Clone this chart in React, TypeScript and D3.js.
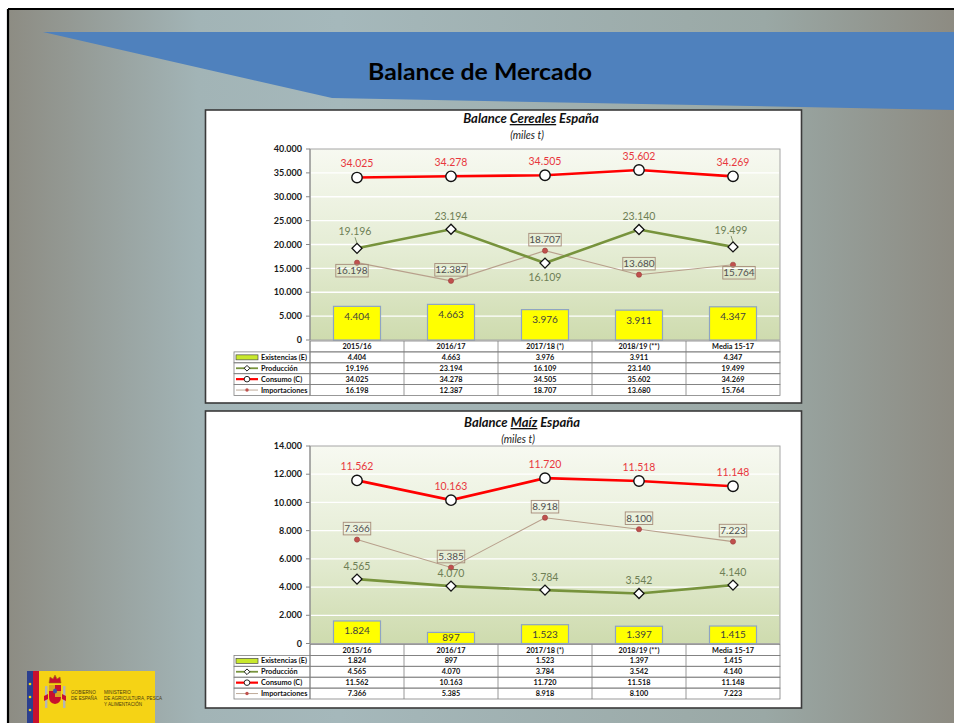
import * as d3 from 'd3'

const W = 954
const H = 723

const categories = ['2015/16', '2016/17', '2017/18 (*)', '2018/19 (**)', 'Media 15-17']
const seriesNames = ['Existencias (E)', 'Producción', 'Consumo (C)', 'Importaciones']

// Cereales (miles t)
const cerealesExistencias = [4404, 4663, 3976, 3911, 4347]
const cerealesProduccion = [19196, 23194, 16109, 23140, 19499]
const cerealesConsumo = [34025, 34278, 34505, 35602, 34269]
const cerealesImportaciones = [16198, 12387, 18707, 13680, 15764]
const cerealesTicks = [0, 5000, 10000, 15000, 20000, 25000, 30000, 35000, 40000]

// Maíz (miles t)
const maizExistencias = [1824, 897, 1523, 1397, 1415]
const maizProduccion = [4565, 4070, 3784, 3542, 4140]
const maizConsumo = [11562, 10163, 11720, 11518, 11148]
const maizImportaciones = [7366, 5385, 8918, 8100, 7223]
const maizTicks = [0, 2000, 4000, 6000, 8000, 10000, 12000, 14000]

// where the data labels sit relative to their marker
const cerealesProdPos = ['leader', 'above', 'below', 'above', 'leader']
const cerealesImpPos = ['below', 'above', 'above', 'above', 'below']
const cerealesImpShift = [-5, 0, 0, 0, 6]
const maizProdPos = ['above', 'above', 'above', 'above', 'above']
const maizImpPos = ['above', 'above', 'above', 'above', 'above']
const maizImpShift = [0, 0, 0, 0, 0]

const fmt = d3.formatLocale({ decimal: ',', thousands: '.', grouping: [3], currency: ['', ''] }).format(',d')

const FONT = 'Lato, "Open Sans", sans-serif'
const PLOT_L = 310
const PLOT_R = 780
const LEG_L = 234

const RED = '#ff0000'
const OLIVE = '#77933c'
const BROWN = '#b8a08c'

interface ChartProps {
  id: string
  word: string
  panelTop: number
  panelBottom: number
  titleX: number
  titleY: number
  plotTop: number
  plotBottom: number
  ticks: number[]
  barMax: number
  existencias: number[]
  produccion: number[]
  consumo: number[]
  importaciones: number[]
  prodPos: string[]
  impPos: string[]
  impShift: number[]
}

function BalanceChart(p: ChartProps) {
  const x = d3.scaleBand<string>().domain(categories).range([PLOT_L, PLOT_R])
  const cx = (i: number) => (x(categories[i]) ?? 0) + x.bandwidth() / 2
  const yMax = p.ticks[p.ticks.length - 1]
  const y = d3.scaleLinear().domain([0, yMax]).range([p.plotBottom, p.plotTop])
  const yb = d3.scaleLinear().domain([0, p.barMax]).range([p.plotBottom, p.plotTop])
  const line = d3.line<number>().x((_, i) => cx(i)).y((d) => y(d))
  const diamond = d3.symbol(d3.symbolSquare, 50)()
  const smallDiamond = d3.symbol(d3.symbolSquare, 16)()
  const bw = x.bandwidth() / 2
  const rowH = 10.9
  const tTop = p.plotBottom + 1
  const tBottom = tTop + rowH * 5

  return (
    <g>
      <defs>
        <linearGradient id={`plotbg-${p.id}`} x1="0" y1="0" x2="0" y2="1">
          <stop offset="0" stopColor="#f7f9f1" />
          <stop offset="0.55" stopColor="#e4ecd3" />
          <stop offset="1" stopColor="#cedbae" />
        </linearGradient>
      </defs>
      <rect x={205.5} y={p.panelTop} width={596} height={p.panelBottom - p.panelTop} fill="#fff" stroke="#3a3a3a" strokeWidth={1.6} />

      <text x={p.titleX} y={p.titleY} textAnchor="middle" fontFamily={FONT} fontWeight="bold" fontStyle="italic" fontSize={13} fill="#111">
        Balance <tspan style={{ textDecoration: 'underline' }}>{p.word}</tspan> España
      </text>
      <text x={p.titleX - 4} y={p.titleY + 16} textAnchor="middle" fontFamily={FONT} fontStyle="italic" fontSize={10.5} fill="#222">
        (miles t)
      </text>

      {/* plot area */}
      <rect x={PLOT_L} y={p.plotTop} width={PLOT_R - PLOT_L} height={p.plotBottom - p.plotTop} fill={`url(#plotbg-${p.id})`} stroke="#a6a6a6" strokeWidth={1} />
      {p.ticks.slice(1, -1).map((t) => (
        <line key={t} x1={PLOT_L + 1} x2={PLOT_R - 1} y1={y(t)} y2={y(t)} stroke="#fff" strokeWidth={1.3} />
      ))}
      <line x1={PLOT_L} x2={PLOT_L} y1={p.plotTop} y2={p.plotBottom} stroke="#868686" />
      {p.ticks.map((t) => (
        <g key={t}>
          <line x1={PLOT_L - 4} x2={PLOT_L} y1={y(t)} y2={y(t)} stroke="#868686" />
          <text x={PLOT_L - 8} y={y(t)} dy="0.35em" textAnchor="end" fontFamily={FONT} fontWeight="bold" fontSize={9} fill="#1a1a1a">
            {fmt(t)}
          </text>
        </g>
      ))}

      {/* Existencias bars */}
      {p.existencias.map((v, i) => {
        const top = yb(v)
        const h = p.plotBottom - top
        return (
          <g key={i}>
            <rect x={cx(i) - bw / 2} y={top} width={bw} height={h} fill="#ffff00" stroke="#8ea4c4" strokeWidth={1.2} />
            <text x={cx(i)} y={top + Math.min(h / 2, 10)} dy="0.35em" textAnchor="middle" fontFamily={FONT} fontSize={10} fill="#3f3f3f">
              {fmt(v)}
            </text>
          </g>
        )
      })}

      {/* Importaciones */}
      <path d={line(p.importaciones) ?? ''} fill="none" stroke={BROWN} strokeWidth={1.1} />
      {p.importaciones.map((v, i) => {
        const label = fmt(v)
        const bwid = label.length * 4.9 + 3
        const by = p.impPos[i] === 'below' ? y(v) + 8 : y(v) - 11
        const bx = cx(i) + p.impShift[i]
        return (
          <g key={i}>
            <circle cx={cx(i)} cy={y(v)} r={2.6} fill="#c0504d" stroke="#9a3d3a" strokeWidth={0.6} />
            <rect x={bx - bwid / 2} y={by - 6.3} width={bwid} height={12.6} fill="none" stroke="#a58a78" strokeWidth={0.9} />
            <text x={bx} y={by} dy="0.35em" textAnchor="middle" fontFamily={FONT} fontSize={10} fill="#505050">
              {label}
            </text>
          </g>
        )
      })}

      {/* Producción */}
      <path d={line(p.produccion) ?? ''} fill="none" stroke={OLIVE} strokeWidth={2.6} />
      {p.produccion.map((v, i) => {
        const pos = p.prodPos[i]
        const ly = pos === 'below' ? y(v) + 14 : pos === 'leader' ? y(v) - 17 : y(v) - 13
        return (
          <g key={i}>
            {pos === 'leader' && <line x1={cx(i) - 2} y1={y(v) - 11} x2={cx(i)} y2={y(v) - 5} stroke="#6b7d52" strokeWidth={0.8} />}
            <path d={diamond ?? ''} transform={`translate(${cx(i)},${y(v)}) rotate(45)`} fill="#fff" stroke="#111" strokeWidth={1.3} />
            <text x={cx(i) - (pos === 'leader' ? 2 : 0)} y={ly} dy="0.35em" textAnchor="middle" fontFamily={FONT} fontSize={10.5} fill="#6e7f55">
              {fmt(v)}
            </text>
          </g>
        )
      })}

      {/* Consumo */}
      <path d={line(p.consumo) ?? ''} fill="none" stroke={RED} strokeWidth={2.6} />
      {p.consumo.map((v, i) => (
        <g key={i}>
          <circle cx={cx(i)} cy={y(v)} r={5.2} fill="#fff" stroke="#111" strokeWidth={1.4} />
          <text x={cx(i)} y={y(v) - 14} dy="0.35em" textAnchor="middle" fontFamily={FONT} fontSize={10.5} fill="#e8383d">
            {fmt(v)}
          </text>
        </g>
      ))}

      {/* data table */}
      <g fontFamily={FONT} fontWeight="bold" fontSize={7.3} fill="#111">
        <rect x={PLOT_L} y={tTop} width={PLOT_R - PLOT_L} height={rowH} fill="#fff" stroke="#7f7f7f" strokeWidth={0.8} />
        {categories.map((c, i) => (
          <g key={c}>
            <line x1={x(c)} x2={x(c)} y1={tTop} y2={tBottom} stroke="#7f7f7f" strokeWidth={0.8} />
            <text x={cx(i)} y={tTop + rowH / 2} dy="0.35em" textAnchor="middle">{c}</text>
          </g>
        ))}
        {[p.existencias, p.produccion, p.consumo, p.importaciones].map((vals, r) => {
          const ry = tTop + rowH * (r + 1)
          const my = ry + rowH / 2
          return (
            <g key={r}>
              <rect x={LEG_L} y={ry} width={PLOT_R - LEG_L} height={rowH} fill="none" stroke="#7f7f7f" strokeWidth={0.8} />
              <line x1={PLOT_L} x2={PLOT_L} y1={ry} y2={ry + rowH} stroke="#7f7f7f" strokeWidth={0.8} />
              {r === 0 && <rect x={LEG_L + 2} y={my - 2.5} width={22} height={5} fill="#c8e82c" stroke="#4a4a4a" strokeWidth={0.7} />}
              {r === 1 && (
                <g>
                  <line x1={LEG_L + 2} x2={LEG_L + 24} y1={my} y2={my} stroke={OLIVE} strokeWidth={1.8} />
                  <path d={smallDiamond ?? ''} transform={`translate(${LEG_L + 13},${my}) rotate(45)`} fill="#fff" stroke="#111" strokeWidth={0.9} />
                </g>
              )}
              {r === 2 && (
                <g>
                  <line x1={LEG_L + 2} x2={LEG_L + 24} y1={my} y2={my} stroke={RED} strokeWidth={2.2} />
                  <circle cx={LEG_L + 13} cy={my} r={2.8} fill="#fff" stroke="#111" strokeWidth={0.9} />
                </g>
              )}
              {r === 3 && (
                <g>
                  <line x1={LEG_L + 2} x2={LEG_L + 24} y1={my} y2={my} stroke={BROWN} strokeWidth={0.9} />
                  <circle cx={LEG_L + 13} cy={my} r={1.7} fill="#c0504d" />
                </g>
              )}
              <text x={LEG_L + 27} y={my} dy="0.35em">{seriesNames[r]}</text>
              {vals.map((v, i) => (
                <text key={i} x={cx(i)} y={my} dy="0.35em" textAnchor="middle">{fmt(v)}</text>
              ))}
            </g>
          )
        })}
      </g>
    </g>
  )
}

function Logo() {
  return (
    <g>
      <rect x={27} y={671} width={128} height={52} fill="#f5d315" />
      <rect x={27} y={671} width={6} height={52} fill="#2b3f8e" />
      <rect x={33} y={671} width={6} height={52} fill="#c8102e" />
      {[684, 697, 710].map((sy) => (
        <circle key={sy} cx={30} cy={sy} r={1.3} fill="#f5d315" />
      ))}
      {/* simplified coat of arms */}
      <path d="M49,683 L50,677 L53,679 L55,675 L57,679 L60,677 L61,683 Z" fill="#c8102e" stroke="#a07010" strokeWidth={0.6} />
      <path d="M49,685 L61,685 L61,697 Q61,703 55,704 Q49,703 49,697 Z" fill="#c8102e" />
      <rect x={49} y={685} width={6} height={6} fill="#d9a520" />
      <rect x={55} y={691} width={6} height={6} fill="#d9a520" />
      <ellipse cx={55} cy={691} rx={2} ry={2.5} fill="#3a55a8" />
      <rect x={45} y={686} width={2.4} height={22} fill="#b5b5b5" />
      <rect x={63} y={686} width={2.4} height={22} fill="#b5b5b5" />
      <path d="M44,696 L48,694 L48,699 L44,701 Z" fill="#c8102e" />
      <path d="M66,696 L62,694 L62,699 L66,701 Z" fill="#c8102e" />
      <g fontFamily="'Liberation Sans', sans-serif" fontSize={4.6} fill="#4a3a10">
        <text x={71} y={694}>GOBIERNO</text>
        <text x={71} y={700}>DE ESPAÑA</text>
        <text x={104} y={694}>MINISTERIO</text>
        <text x={104} y={700}>DE AGRICULTURA, PESCA</text>
        <text x={104} y={706}>Y ALIMENTACIÓN</text>
      </g>
    </g>
  )
}

export default function App() {
  return (
    <div style={{ position: 'absolute', left: 0, top: 0 }}>
      <svg width={W} height={H} viewBox={`0 0 ${W} ${H}`} style={{ display: 'block' }}>
        <defs>
          <linearGradient id="slidebg" x1="0" y1="0" x2="1" y2="0">
            <stop offset="0" stopColor="#8d8c83" />
            <stop offset="0.2" stopColor="#a2b4b6" />
            <stop offset="0.35" stopColor="#a5b8bb" />
            <stop offset="0.8" stopColor="#9aa8a5" />
            <stop offset="1" stopColor="#8d8b82" />
          </linearGradient>
        </defs>
        <rect x={0} y={0} width={W} height={H} fill="#fff" />
        <rect x={8} y={9} width={W - 8} height={H - 9} fill="url(#slidebg)" />
        <line x1={8} x2={8} y1={9} y2={H} stroke="#000" strokeWidth={2.2} />
        <line x1={8} x2={W} y1={9} y2={9} stroke="#000" strokeWidth={2.2} />

        <path d="M43,32 L954,32 L954,110 L332,98 Z" fill="#4f81bd" />
        <text x={480} y={80} textAnchor="middle" fontFamily={FONT} fontWeight="bold" fontSize={23} fill="#000" textLength={224} lengthAdjust="spacingAndGlyphs">
          Balance de Mercado
        </text>

        <BalanceChart
          id="cer"
          word="Cereales"
          panelTop={110}
          panelBottom={403}
          titleX={531}
          titleY={123}
          plotTop={149}
          plotBottom={340}
          ticks={cerealesTicks}
          barMax={25000}
          existencias={cerealesExistencias}
          produccion={cerealesProduccion}
          consumo={cerealesConsumo}
          importaciones={cerealesImportaciones}
          prodPos={cerealesProdPos}
          impPos={cerealesImpPos}
          impShift={cerealesImpShift}
        />
        <BalanceChart
          id="maiz"
          word="Maíz"
          panelTop={411}
          panelBottom={708}
          titleX={522}
          titleY={427}
          plotTop={446}
          plotBottom={643.5}
          ticks={maizTicks}
          barMax={16000}
          existencias={maizExistencias}
          produccion={maizProduccion}
          consumo={maizConsumo}
          importaciones={maizImportaciones}
          prodPos={maizProdPos}
          impPos={maizImpPos}
          impShift={maizImpShift}
        />
        <Logo />
      </svg>
    </div>
  )
}
